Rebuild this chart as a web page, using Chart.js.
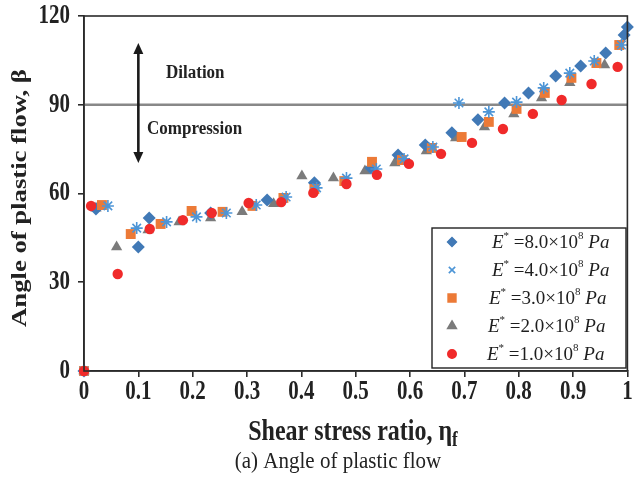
<!DOCTYPE html>
<html>
<head>
<meta charset="utf-8">
<script src="https://cdn.jsdelivr.net/npm/chart.js@4.4.1/dist/chart.umd.min.js"></script>
<style>
  html, body { margin: 0; padding: 0; background: #fff; }
  #wrap { width: 635px; height: 486px; position: relative; }
</style>
</head>
<body>
<div id="wrap"><canvas id="flowChart" width="635" height="486"></canvas></div>
<script>
// Angle of plastic flow vs shear stress ratio, five stiffness values.
const xTicks = [0, 0.1, 0.2, 0.3, 0.4, 0.5, 0.6, 0.7, 0.8, 0.9, 1];
const yTicks = [0, 30, 60, 90, 120];

// E* = 8.0e8 Pa
const x8 = [0, 0.022, 0.10, 0.12, 0.233, 0.337, 0.424, 0.528, 0.578, 0.628, 0.677, 0.725, 0.774, 0.818, 0.868, 0.914, 0.96, 0.994, 1.0];
const y8 = [0, 54.8, 41.9, 51.7, 53.4, 57.8, 63.6, 68.6, 73.0, 76.4, 80.5, 84.9, 90.6, 94.0, 99.7, 103.1, 107.5, 113.6, 116.3];
// E* = 4.0e8 Pa
const x4 = [0, 0.044, 0.097, 0.152, 0.207, 0.262, 0.317, 0.372, 0.428, 0.483, 0.538, 0.589, 0.642, 0.69, 0.745, 0.796, 0.846, 0.894, 0.939, 0.989];
const y4 = [0, 55.8, 48.3, 50.4, 52.1, 53.4, 56.1, 58.8, 61.9, 65.2, 68.3, 71.7, 75.7, 90.6, 87.6, 90.9, 95.7, 100.7, 104.8, 110.2];
// E* = 3.0e8 Pa
const x3 = [0, 0.033, 0.086, 0.141, 0.198, 0.255, 0.31, 0.367, 0.424, 0.479, 0.53, 0.585, 0.64, 0.695, 0.745, 0.796, 0.848, 0.897, 0.943, 0.985];
const y3 = [0, 56.1, 46.3, 49.7, 54.1, 53.8, 55.8, 58.5, 61.5, 64.2, 70.7, 71.3, 75.4, 79.1, 84.2, 88.6, 94.0, 99.1, 104.1, 110.2];
// E* = 2.0e8 Pa
const x2 = [0, 0.022, 0.06, 0.118, 0.175, 0.233, 0.291, 0.349, 0.401, 0.459, 0.517, 0.572, 0.63, 0.684, 0.737, 0.791, 0.842, 0.894, 0.958];
const y2 = [0, 55, 41.9, 47.7, 50.4, 51.7, 53.8, 56.5, 65.9, 65.2, 67.6, 70.3, 74.4, 78.8, 82.5, 86.9, 92.3, 97.4, 103.4];
// E* = 1.0e8 Pa
const x1 = [0, 0.013, 0.062, 0.121, 0.182, 0.235, 0.303, 0.363, 0.422, 0.483, 0.539, 0.598, 0.657, 0.714, 0.771, 0.826, 0.879, 0.934, 0.982];
const y1 = [0, 55.8, 32.8, 48.0, 51.0, 53.4, 56.8, 57.1, 60.2, 63.2, 66.3, 70.0, 73.4, 77.1, 81.8, 86.9, 91.6, 97.0, 102.8];

// dilation / compression boundary
const lineX = [0, 1];
const lineY = [90, 90];

const legendMantissa = ['8.0', '4.0', '3.0', '2.0', '1.0'];

const SERIF = "'Liberation Serif', 'Times New Roman', serif";
const pts = (xs, ys) => xs.map((x, i) => ({ x: x, y: ys[i] }));

const styles = [
    { style: 'rectRot',  color: '#4179b6', r: 6.5, lr: 4.5 },
    { style: 'star',     color: '#4d95d6', r: 6,   lr: 4.5 },
    { style: 'rect',     color: '#ec7a37', r: 7,   lr: 5.5 },
    { style: 'triangle', color: '#7b7b7b', r: 6.5, lr: 5 },
    { style: 'circle',   color: '#f02a2a', r: 5.2, lr: 4.2 }
];

function scatterSet(label, xs, ys, st, order) {
    return {
        type: 'scatter', label: label, data: pts(xs, ys), order: order, clip: false,
        pointStyle: st.style, pointRadius: st.r, pointHoverRadius: st.r,
        backgroundColor: st.color, borderColor: st.color,
        borderWidth: st.style === 'star' ? 1.6 : 0
    };
}

// draw mixed-font text run, left aligned at x
function drawRun(ctx, x, y, parts) {
    parts.forEach(p => {
        ctx.font = p.f;
        ctx.fillText(p.t, x, y + (p.dy || 0));
        x += ctx.measureText(p.t).width;
    });
}

// text stretched vertically (the source figure is squashed horizontally)
function stretchText(ctx, text, x, y, font, align, sy) {
    ctx.save();
    ctx.translate(x, y);
    ctx.scale(1, sy);
    ctx.font = font;
    ctx.textAlign = align;
    ctx.textBaseline = 'middle';
    ctx.fillText(text, 0, 0);
    ctx.restore();
}

const decorPlugin = {
    id: 'decor',
    afterDraw: (chart) => {
        const { ctx, chartArea: ca, scales } = chart;
        const xs = scales.x, ys = scales.y;
        ctx.save();

        // frame
        ctx.strokeStyle = '#2b2b2b';
        ctx.lineWidth = 1.6;
        ctx.strokeRect(ca.left, ca.top, ca.right - ca.left, ca.bottom - ca.top);

        // tick labels
        ctx.fillStyle = '#222';
        const tickFont = 'bold 21px ' + SERIF;
        xTicks.forEach(v => {
            stretchText(ctx, String(v), xs.getPixelForValue(v), 392, tickFont, 'center', 1.28);
        });
        yTicks.forEach(v => {
            stretchText(ctx, String(v), 70, ys.getPixelForValue(v), tickFont, 'right', 1.28);
        });

        // double arrow
        const ax = xs.getPixelForValue(0.1);
        const aTop = ys.getPixelForValue(110.9), aBot = ys.getPixelForValue(70.3);
        ctx.strokeStyle = '#1a1a1a';
        ctx.fillStyle = '#1a1a1a';
        ctx.lineWidth = 2.6;
        ctx.beginPath();
        ctx.moveTo(ax, aTop + 8);
        ctx.lineTo(ax, aBot - 8);
        ctx.stroke();
        [[aTop, 1], [aBot, -1]].forEach(([yy, d]) => {
            ctx.beginPath();
            ctx.moveTo(ax, yy);
            ctx.lineTo(ax - 5, yy + d * 11);
            ctx.lineTo(ax + 5, yy + d * 11);
            ctx.closePath();
            ctx.fill();
        });

        ctx.fillStyle = '#222';
        stretchText(ctx, 'Dilation', 166, 73, 'bold 17px ' + SERIF, 'left', 1.1);
        stretchText(ctx, 'Compression', 147, 129, 'bold 17px ' + SERIF, 'left', 1.1);

        // legend box
        const lx = 432, ly = 228, lw = 194, lh = 140;
        ctx.fillStyle = '#fff';
        ctx.fillRect(lx, ly, lw, lh);
        ctx.strokeStyle = '#222';
        ctx.lineWidth = 1.4;
        ctx.strokeRect(lx, ly, lw, lh);
        ctx.textBaseline = 'alphabetic';
        ctx.textAlign = 'left';
        styles.forEach((st, i) => {
            const cy = 242 + i * 28;
            ctx.fillStyle = st.color;
            ctx.strokeStyle = st.color;
            ctx.lineWidth = st.style === 'star' ? 1.6 : 0;
            Chart.helpers.drawPoint(ctx, { pointStyle: st.style === 'star' ? 'crossRot' : st.style, radius: st.lr, rotation: 0, borderWidth: ctx.lineWidth }, 452, cy);
            if (st.style !== 'star') ctx.fill();
            ctx.fillStyle = '#1e1e1e';
            const tx = [492, 492, 489, 488, 487][i];
            drawRun(ctx, tx, cy + 6, [
                { t: 'E', f: 'italic 19px ' + SERIF },
                { t: '*', f: '11px ' + SERIF, dy: -9 },
                { t: ' =' + legendMantissa[i] + '\u00d710', f: '19px ' + SERIF },
                { t: '8', f: '11px ' + SERIF, dy: -9 },
                { t: ' Pa', f: 'italic 19px ' + SERIF }
            ]);
        });

        // y axis title (stretched along its length)
        ctx.fillStyle = '#222';
        ctx.save();
        ctx.translate(21, 198);
        ctx.rotate(-Math.PI / 2);
        ctx.scale(1.27, 1);
        ctx.textAlign = 'center';
        ctx.textBaseline = 'middle';
        ctx.font = 'bold 21px ' + SERIF;
        ctx.fillText('Angle of plastic flow, \u03b2', 0, 0);
        ctx.restore();

        // x axis title with subscript
        ctx.save();
        ctx.translate(0, 432);
        ctx.scale(1, 1.2);
        ctx.textBaseline = 'alphabetic';
        ctx.textAlign = 'left';
        const main = 'Shear stress ratio, \u03b7';
        ctx.font = 'bold 24px ' + SERIF;
        const wMain = ctx.measureText(main).width;
        ctx.font = 'bold 17px ' + SERIF;
        const wSub = ctx.measureText('f').width;
        drawRun(ctx, 353 - (wMain + wSub) / 2, 7, [
            { t: main, f: 'bold 24px ' + SERIF },
            { t: 'f', f: 'bold 17px ' + SERIF, dy: 5 }
        ]);
        ctx.restore();

        stretchText(ctx, '(a) Angle of plastic flow', 338, 462, '21px ' + SERIF, 'center', 1.12);
        ctx.restore();
    }
};

new Chart(document.getElementById('flowChart').getContext('2d'), {
    type: 'scatter',
    data: {
        datasets: [
            { type: 'line', label: 'boundary', data: pts(lineX, lineY), borderColor: '#888888', borderWidth: 2.4, pointRadius: 0, order: 9 },
            scatterSet('E* = 2.0x10^8 Pa', x2, y2, styles[3], 6),
            scatterSet('E* = 8.0x10^8 Pa', x8, y8, styles[0], 5),
            scatterSet('E* = 3.0x10^8 Pa', x3, y3, styles[2], 4),
            scatterSet('E* = 4.0x10^8 Pa', x4, y4, styles[1], 3),
            scatterSet('E* = 1.0x10^8 Pa', x1, y1, styles[4], 2)
        ]
    },
    options: {
        responsive: false, animation: false,
        layout: { padding: { top: 16, right: 6, left: 0, bottom: 0 } },
        plugins: { legend: { display: false }, tooltip: { enabled: false } },
        scales: {
            x: {
                type: 'linear', min: 0, max: 1,
                afterFit: (s) => { s.height = 115; },
                afterBuildTicks: (s) => { s.ticks = xTicks.map(v => ({ value: v })); },
                grid: { drawOnChartArea: false, drawTicks: true, tickLength: 6, color: '#2b2b2b', lineWidth: 1.6 },
                border: { color: '#2b2b2b', width: 1.6 },
                ticks: { display: false }
            },
            y: {
                type: 'linear', min: 0, max: 120,
                afterFit: (s) => { s.width = 84; },
                afterBuildTicks: (s) => { s.ticks = yTicks.map(v => ({ value: v })); },
                grid: { drawOnChartArea: false, drawTicks: true, tickLength: 6, color: '#2b2b2b', lineWidth: 1.6 },
                border: { color: '#2b2b2b', width: 1.6 },
                ticks: { display: false }
            }
        }
    },
    plugins: [decorPlugin]
});
</script>
</body>
</html>
